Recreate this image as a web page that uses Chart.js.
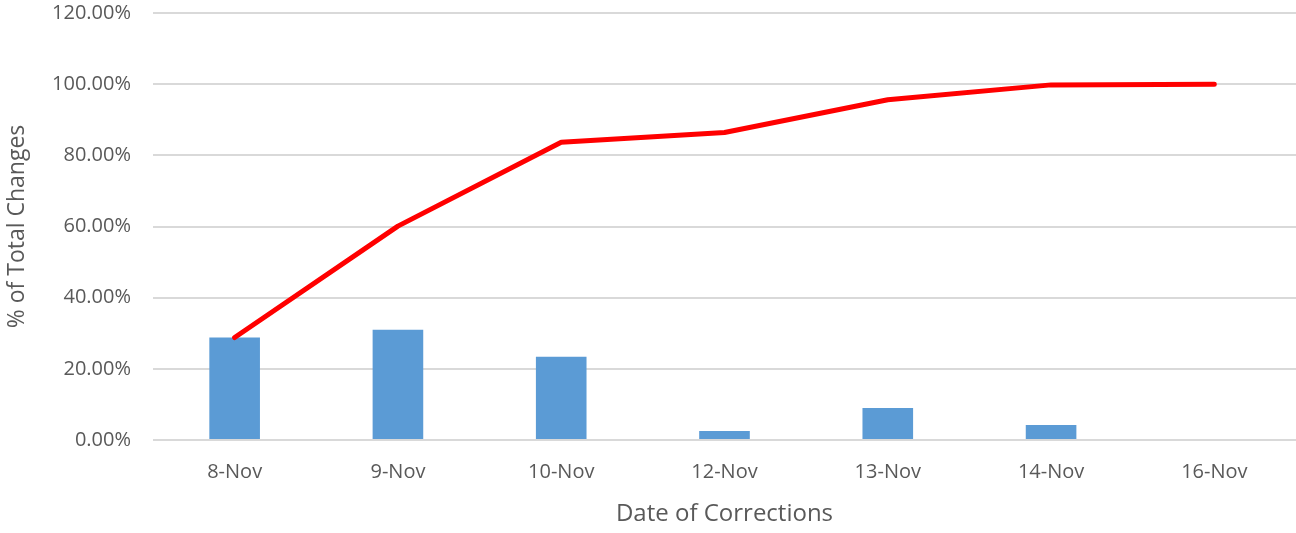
<!DOCTYPE html>
<html>
<head>
<meta charset="utf-8">
<script src="https://cdn.jsdelivr.net/npm/chart.js@4"></script>
<style>
  html, body { margin: 0; padding: 0; background: #fff; }
  #wrap { width: 1296px; height: 533px; position: relative; }
</style>
</head>
<body>
<div id="wrap"><canvas id="chart"></canvas></div>
<script>
const dates = ["8-Nov", "9-Nov", "10-Nov", "12-Nov", "13-Nov", "14-Nov", "16-Nov"];
const dailyShare = [28.8, 31.0, 23.4, 2.5, 9.0, 4.2, 0];
const cumulativeShare = [28.8, 60.1, 83.7, 86.4, 95.6, 99.8, 100];
const yTicks = [0, 20, 40, 60, 80, 100, 120];

const textColor = "#595959";
const font = "'Open Sans', 'Noto Sans', sans-serif";

new Chart(document.getElementById("chart"), {
  data: {
    labels: dates,
    datasets: [
      {
        type: "line",
        label: "Cumulative",
        data: cumulativeShare,
        borderColor: "#ff0000",
        borderWidth: 5,
        borderCapStyle: "round",
        borderJoinStyle: "round",
        pointRadius: 0,
        tension: 0,
        fill: false,
        order: 0,
      },
      {
        type: "bar",
        label: "Daily",
        data: dailyShare,
        backgroundColor: "#5b9bd5",
        categoryPercentage: 1,
        barPercentage: 0.31,
        order: 1,
      },
    ],
  },
  options: {
    responsive: true,
    maintainAspectRatio: false,
    animation: false,
    layout: { padding: { top: 13, right: 0, left: 0, bottom: 0 } },
    plugins: {
      legend: { display: false },
      tooltip: { enabled: false },
    },
    scales: {
      x: {
        offset: true,
        grid: { display: false, drawTicks: false },
        border: { display: false },
        ticks: {
          color: textColor,
          font: { family: font, size: 20 },
          padding: 20,
          maxRotation: 0,
        },
        title: {
          display: true,
          text: "Date of Corrections",
          color: textColor,
          font: { family: font, size: 24 },
          padding: { top: 4 },
        },
        afterFit: (scale) => { scale.height = 93; },
      },
      y: {
        min: 0,
        max: 120,
        afterBuildTicks: (scale) => {
          scale.ticks = yTicks.map((v) => ({ value: v }));
        },
        grid: { color: "#d9d9d9", lineWidth: 2, drawTicks: false },
        border: { display: false },
        ticks: {
          color: textColor,
          font: { family: font, size: 20 },
          padding: 22,
          callback: (v) => v.toFixed(2) + "%",
        },
        title: {
          display: true,
          text: "% of Total Changes",
          color: textColor,
          font: { family: font, size: 23 },
          padding: { bottom: 2 },
        },
        afterFit: (scale) => {
          scale.width = 153;
          scale.paddingTop = 0;
          scale.paddingBottom = 0;
        },
      },
    },
  },
});
</script>
</body>
</html>
